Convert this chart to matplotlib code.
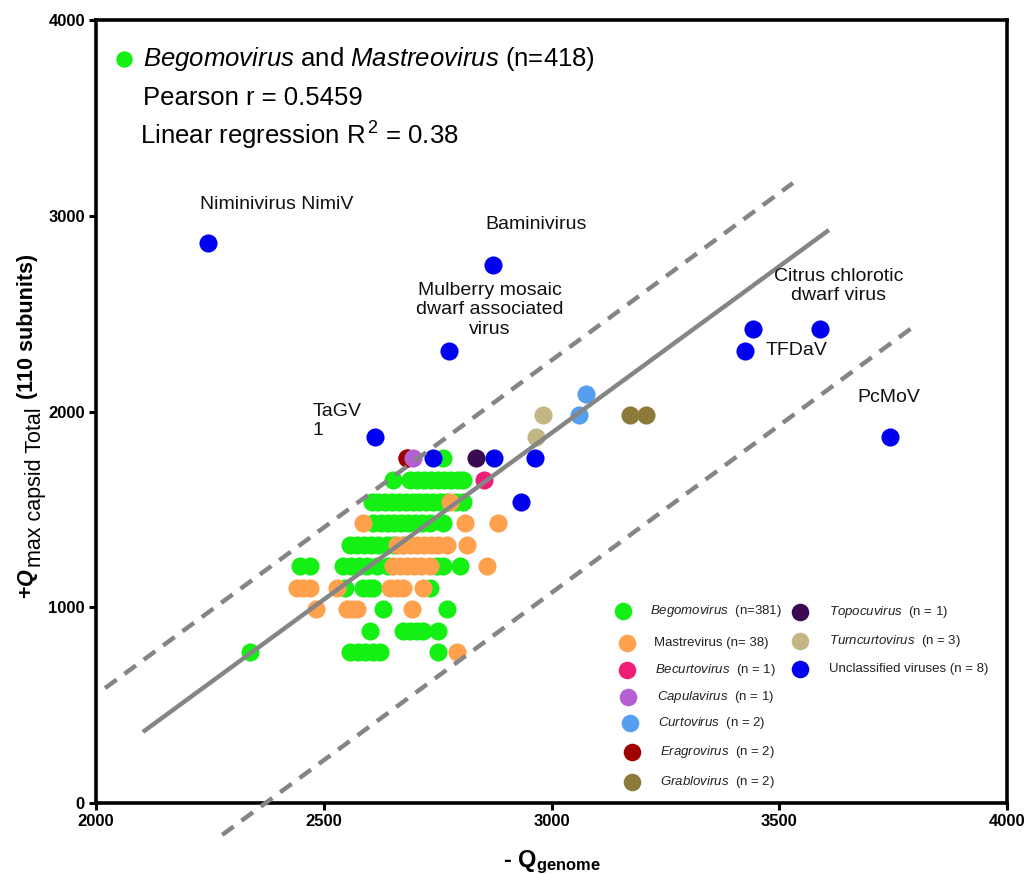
import matplotlib
matplotlib.use("Agg")
import matplotlib.pyplot as plt

plt.rcParams['font.family'] = ['Liberation Sans', 'DejaVu Sans']
plt.rcParams['mathtext.fontset'] = 'custom'
plt.rcParams['mathtext.rm'] = 'Liberation Sans'
plt.rcParams['mathtext.it'] = 'Liberation Sans:italic'
plt.rcParams['mathtext.bf'] = 'Liberation Sans:bold'
try:
    plt.rcParams['mathtext.bfit'] = 'Liberation Sans:italic:bold'
    HAS_BFIT = True
except Exception:
    HAS_BFIT = False

# ---------------- data ----------------
# Begomovirus rows: y value -> list of x values
bego_rows = {
    1760: [2762],
    1650: [2653, 2690, 2705, 2720, 2735, 2750, 2765, 2780, 2795, 2806],
    1540: [2605, 2620, 2635, 2650, 2665, 2680, 2695, 2710, 2725, 2740, 2755, 2770, 2790, 2806],
    1430: [2609, 2625, 2640, 2655, 2670, 2685, 2700, 2715, 2733, 2762],
    1320: [2558, 2573, 2588, 2603, 2620, 2638, 2655, 2675],
    1210: [2448, 2470, 2542, 2560, 2578, 2596, 2617, 2640, 2749, 2762, 2799],
    1100: [2547, 2587, 2600, 2609, 2733],
    990:  [2630, 2770],
    880:  [2602, 2675, 2690, 2705, 2718, 2751],
    770:  [2338, 2558, 2575, 2590, 2608, 2624, 2751],
}
mastre_rows = {
    1540: [2777],
    1430: [2587, 2810, 2883],
    1320: [2660, 2675, 2690, 2705, 2720, 2735, 2750, 2770, 2814],
    1210: [2653, 2668, 2683, 2698, 2713, 2733, 2858],
    1100: [2441, 2455, 2470, 2529, 2645, 2660, 2674, 2718],
    990:  [2484, 2550, 2562, 2572, 2693],
    770:  [2792],
}
becurto_x, becurto_y = [2852], [1650]
capula_x, capula_y = [2696], [1760]
curto_x, curto_y = [3076, 3060], [2090, 1980]
eragro_x, eragro_y = [2683, 2683], [1760, 1760]
grablo_x, grablo_y = [3172, 3207], [1980, 1980]
topocu_x, topocu_y = [2834], [1760]
turncurto_x, turncurto_y = [2981, 2966], [1980, 1870]
unclass_x = [2246, 2872, 2775, 2612, 3442, 3425, 3590, 3743, 2740, 2874, 2964, 2933]
unclass_y = [2860, 2750, 2310, 1870, 2420, 2310, 2420, 1870, 1760, 1760, 1760, 1540]

# regression & prediction band lines (endpoints)
reg_x, reg_y = [2103, 3609], [363, 2927]
upper_x, upper_y = [2020, 3530], [587, 3167]
lower_x, lower_y = [2277, 3794], [-163, 2432]

annotations = [
    ("Niminivirus NimiV", 2228, 3055, 'left'),
    ("Baminivirus", 2854, 2953, 'left'),
    ("Mulberry mosaic\ndwarf associated\nvirus", 2865, 2519, 'center'),
    ("TaGV\n1", 2476, 1951, 'left'),
    ("Citrus chlorotic\ndwarf virus", 3630, 2642, 'center'),
    ("TFDaV", 3469, 2314, 'left'),
    ("PcMoV", 3671, 2074, 'left'),
]

col = {
    'bego': '#14F014', 'mastre': '#FFA04C', 'becurto': '#EE1E78',
    'capula': '#B45FD2', 'curto': '#559EF0', 'eragro': '#A00000',
    'grablo': '#8C7A3A', 'topocu': '#3C0A50', 'turncurto': '#C4B684',
    'unclass': '#0000F0',
}

def flatten(rows):
    xs, ys = [], []
    for yv, xl in rows.items():
        for xv in xl:
            xs.append(xv)
            ys.append(yv)
    return xs, ys

# ---------------- figure ----------------
fig = plt.figure(figsize=(10.27, 8.74), dpi=100)
W, H = 1027, 874
L, R, T, B = 96, 1007, 20, 803
ax = fig.add_axes([L / W, 1 - B / H, (R - L) / W, (B - T) / H])
ax.set_xlim(2000, 4000)
ax.set_ylim(0, 4000)

S = 170
bx, by = flatten(bego_rows)
mx, my = flatten(mastre_rows)
ax.scatter(bx, by, s=S, c=col['bego'], linewidths=0, zorder=3)
ax.scatter(mx, my, s=S, c=col['mastre'], linewidths=0, zorder=4)
ax.scatter(eragro_x, eragro_y, s=S, c=col['eragro'], linewidths=0, zorder=5)
ax.scatter(capula_x, capula_y, s=S, c=col['capula'], linewidths=0, zorder=6)
ax.scatter(becurto_x, becurto_y, s=S, c=col['becurto'], linewidths=0, zorder=5)
ax.scatter(curto_x, curto_y, s=S, c=col['curto'], linewidths=0, zorder=5)
ax.scatter(grablo_x, grablo_y, s=S, c=col['grablo'], linewidths=0, zorder=5)
ax.scatter(topocu_x, topocu_y, s=S, c=col['topocu'], linewidths=0, zorder=5)
ax.scatter(turncurto_x, turncurto_y, s=S, c=col['turncurto'], linewidths=0, zorder=5)
ax.scatter(unclass_x, unclass_y, s=S, c=col['unclass'], linewidths=0, zorder=6)

gray = '#858585'
ax.plot(reg_x, reg_y, color=gray, lw=3.2, solid_capstyle='butt', zorder=7)
ax.plot(upper_x, upper_y, color=gray, lw=3.2, dashes=(3.2, 2.2), zorder=7)
ax.plot(lower_x, lower_y, color=gray, lw=3.2, dashes=(3.2, 2.2), zorder=7, clip_on=False)

for txt, x, y, ha in annotations:
    ax.text(x, y, txt, ha=ha, va='center', fontsize=14, linespacing=1.2, color='#111111', zorder=8)

# header
ax.scatter([0.031], [0.950], s=140, c=col['bego'], linewidths=0, transform=ax.transAxes, clip_on=False)
ax.text(0.052, 0.950, r'$\mathit{Begomovirus}$ and $\mathit{Mastreovirus}$ (n=418)',
        transform=ax.transAxes, fontsize=18.5, va='center', ha='left')
ax.text(0.052, 0.900, 'Pearson r = 0.5459', transform=ax.transAxes, fontsize=18.5, va='center', ha='left')
ax.text(0.048, 0.852, r'Linear regression R$^{\,2}$ = 0.38', transform=ax.transAxes, fontsize=18.5,
        va='center', ha='left')

# manual legend
def px2ax(px, py):
    return (px - L) / (R - L), (B - py) / (B - T)

legend_items = [
    (r'$\mathit{Begomovirus}$  (n=381)', col['bego'], 623, 611, 650),
    ('Mastrevirus (n= 38)', col['mastre'], 627, 643, 654),
    (r'$\mathit{Becurtovirus}$  (n = 1)', col['becurto'], 627, 670, 655),
    (r'$\mathit{Capulavirus}$  (n = 1)', col['capula'], 628, 697, 657),
    (r'$\mathit{Curtovirus}$  (n = 2)', col['curto'], 630, 723, 658),
    (r'$\mathit{Eragrovirus}$  (n = 2)', col['eragro'], 632, 752, 660),
    (r'$\mathit{Grablovirus}$  (n = 2)', col['grablo'], 632, 782, 660),
    (r'$\mathit{Topocuvirus}$  (n = 1)', col['topocu'], 800, 612, 829),
    (r'$\mathit{Turncurtovirus}$  (n = 3)', col['turncurto'], 800, 641, 829),
    ('Unclassified viruses (n = 8)', col['unclass'], 800, 669, 829),
]
for lab, c, mxp, myp, txp in legend_items:
    a = px2ax(mxp, myp)
    ax.scatter([a[0]], [a[1]], s=160, c=c, linewidths=0, transform=ax.transAxes, clip_on=False, zorder=9)
    t = px2ax(txp, myp)
    ax.text(t[0], t[1], lab, transform=ax.transAxes, fontsize=9.5, va='center', ha='left', color='#222222')

# axes styling
for sp in ax.spines.values():
    sp.set_linewidth(2.6)
    sp.set_color('black')
ax.set_xticks([2000, 2500, 3000, 3500, 4000])
ax.set_yticks([0, 1000, 2000, 3000, 4000])
ax.tick_params(axis='both', direction='out', length=5, width=2.2, labelsize=12, pad=3)
for lab in ax.get_xticklabels() + ax.get_yticklabels():
    lab.set_fontweight('bold')

ax.set_xlabel('- ' + r'$\mathbf{Q_{genome}}$', fontsize=17, fontweight='bold', labelpad=14)

# y label built from pieces (large subscript as in the original)
fig.canvas.draw()
rend = fig.canvas.get_renderer()
qtxt = r'$\mathbf{+}\mathbfit{Q}$' if HAS_BFIT else r'$\mathbf{+Q}$'
t1 = fig.text(28 / W, 1 - 599 / H, qtxt, rotation=90, ha='center', va='bottom', fontsize=15.5)
top1 = t1.get_window_extent(rend).y1
t2 = fig.text(36 / W, (top1 + 1) / H, 'max capsid Total', rotation=90, ha='center', va='bottom',
              fontsize=15.5)
top2 = t2.get_window_extent(rend).y1
t3 = fig.text(28 / W, (top2 + 8) / H, '(110 subunits)', rotation=90, ha='center', va='bottom',
              fontsize=15.5, fontweight='bold')

fig.savefig('out.png', dpi=100)
